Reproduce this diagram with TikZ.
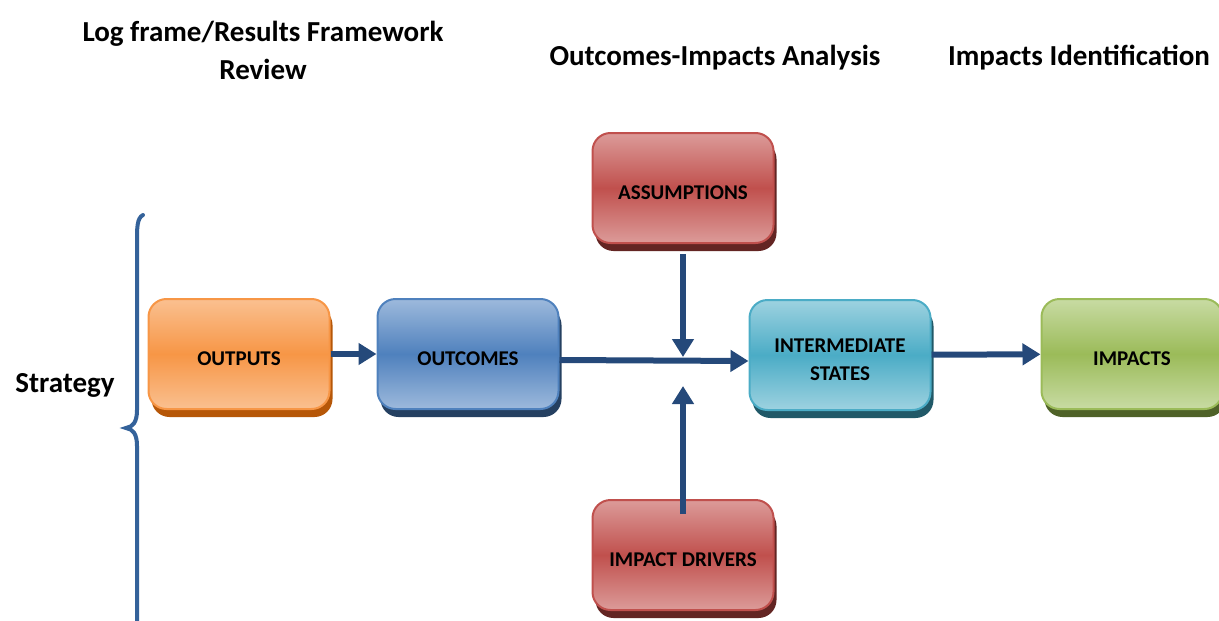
\documentclass[tikz,border=0pt]{standalone}
\usepackage{fontspec}
\setmainfont{Carlito}
\usetikzlibrary{arrows.meta,shadows}

% couleurs des boites : C = centre, L = clair, O = ombre
\definecolor{orangeC}{HTML}{F79646}
\definecolor{orangeL}{HTML}{FAC090}
\definecolor{orangeO}{HTML}{B65708}
\definecolor{bleuC}{HTML}{4F81BD}
\definecolor{bleuL}{HTML}{9DB9DC}
\definecolor{bleuO}{HTML}{254061}
\definecolor{rougeC}{HTML}{C0504D}
\definecolor{rougeL}{HTML}{DC9B99}
\definecolor{rougeO}{HTML}{632523}
\definecolor{cyanC}{HTML}{4BACC6}
\definecolor{cyanL}{HTML}{9DD2E0}
\definecolor{cyanO}{HTML}{215968}
\definecolor{vertC}{HTML}{9BBB59}
\definecolor{vertL}{HTML}{C8DBA3}
\definecolor{vertO}{HTML}{4F6228}
\definecolor{flecheC}{HTML}{25497A}
\definecolor{accoladeC}{HTML}{34629A}

\begin{document}
\begin{tikzpicture}[x=1pt, y=-1pt,
    boite/.style={rounded corners=18pt, minimum width=181pt, minimum height=110pt,
        line width=2pt, draw=#1C, top color=#1L, bottom color=#1L, middle color=#1C,
        drop shadow={shadow xshift=3pt, shadow yshift=-8pt, fill=#1O, opacity=1},
        align=center, font=\fontsize{21}{28}\selectfont\bfseries},
    titre/.style={font=\fontsize{29}{38}\selectfont\bfseries, align=center}, 
    fleche/.style={draw=flecheC, line width=6pt, -{Triangle[length=18pt, width=21pt]}}]
% Cadre de la page
\useasboundingbox (0,0) rectangle (1219,621);

% Titres
\node[titre] (logframe) at (263,50) {Log frame/Results Framework\\Review};
\node[titre] (analyse) at (715,58) {Outcomes-Impacts Analysis};
\node[titre] (identif) at (1079,58) {Impacts Identification};
\node[titre] (strategie) at (65,385) {Strategy};

% Accolade
\draw[accoladeC, line width=4pt, line cap=round]
    (143,215) .. controls (137,218) and (137,228) .. (137,240) -- (137,410)
    .. controls (137,422) and (133,427) .. (126,428)
    .. controls (133,429) and (137,434) .. (137,446) -- (137,612)
    .. controls (137,625) .. (143,635);

% Boites (le \rule descend un peu le texte)
\node[boite=orange] (outputs) at (239,354) {\rule{0pt}{23pt}OUTPUTS};
\node[boite=bleu] (outcomes) at (468,354) {\rule{0pt}{23pt}OUTCOMES};
\node[boite=rouge] (assumptions) at (683,188) {\rule{0pt}{23pt}ASSUMPTIONS};
\node[boite=cyan] (inter) at (840,355) {\rule{0pt}{23pt}INTERMEDIATE\\STATES};
\node[boite=vert] (impacts) at (1132,354) {\rule{0pt}{23pt}IMPACTS};
\node[boite=rouge] (drivers) at (683,555) {\rule{0pt}{23pt}IMPACT DRIVERS};

% Fleches
\coordinate (bas) at (683,357);
\coordinate (haut) at (683,386);
\draw[fleche] (outputs) -- (outcomes);
\draw[fleche] ([yshift=-6pt]outcomes.east) -- ([yshift=-6pt]inter.west);
\draw[fleche] ([yshift=-10pt]assumptions.south) -- (bas);
\draw[fleche] ([yshift=-15pt]drivers.north) -- (haut);
\draw[fleche] (inter) -- (impacts);

\end{tikzpicture}
\end{document}
